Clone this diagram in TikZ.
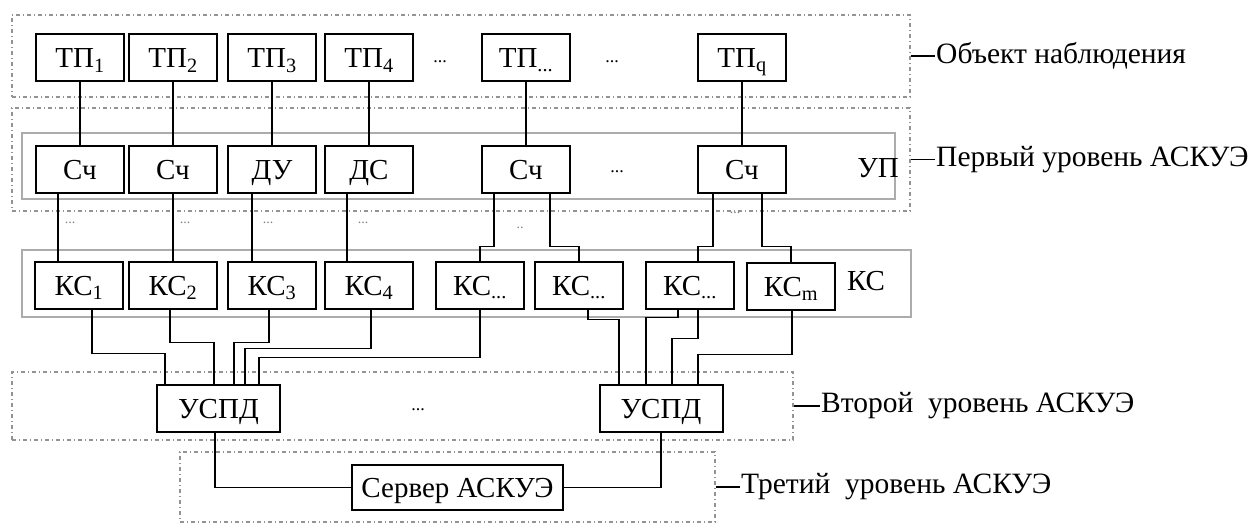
\documentclass[tikz,border=0pt]{standalone}
\usepackage{fontspec}
\setmainfont{Liberation Serif}
\begin{document}
\begin{tikzpicture}[x=1pt, y=-1pt,
    box/.style={draw, line width=2pt, minimum width=88pt, minimum height=47pt, inner sep=0pt, text height=22pt, text depth=2pt, font=\fontsize{29}{31}\selectfont},
    levelframe/.style={draw=gray!85, line width=1.2pt, dash pattern=on 4pt off 3pt on 1pt off 3pt, inner sep=0pt},
    panel/.style={draw=gray!65, line width=2pt, inner sep=0pt},
    lbl/.style={anchor=west, inner sep=1pt, font=\fontsize{29.5}{31}\selectfont},
    dots/.style={font=\fontsize{18}{20}\selectfont},
    smalldots/.style={font=\fontsize{14}{16}\selectfont, text=gray},
    wire/.style={line width=1.6pt},
]
\useasboundingbox (0,0) rectangle (1252,524);

% Level frames and panels
\node[levelframe, minimum width=898pt, minimum height=82pt] (objframe) at (461,56) {};
\node[levelframe, minimum width=898pt, minimum height=103pt] (lvl1frame) at (461,159.5) {};
\node[levelframe, minimum width=781pt, minimum height=68pt] (lvl2frame) at (402.5,406) {};
\node[levelframe, minimum width=535pt, minimum height=70pt] (lvl3frame) at (447.5,487) {};
\node[panel, minimum width=873pt, minimum height=66pt] (uppanel) at (458.5,166) {};
\node[panel, minimum width=889pt, minimum height=67pt] (kcpanel) at (466.5,283.5) {};

% Object points
\node[box] (tp1) at (80,57.5) {ТП\textsubscript{1}};
\node[box] (tp2) at (173,57.5) {ТП\textsubscript{2}};
\node[box] (tp3) at (272,57.5) {ТП\textsubscript{3}};
\node[box] (tp4) at (369,57.5) {ТП\textsubscript{4}};
\node[box] (tp5) at (526,57.5) {ТП\textsubscript{...}};
\node[box] (tp6) at (742,57.5) {ТП\textsubscript{q}};
\node[dots] (tpdotsa) at (440,62) {...};
\node[dots] (tpdotsb) at (612,62) {...};

% Meters
\node[box] (sch1) at (80,169) {Сч};
\node[box] (sch2) at (173,169) {Сч};
\node[box] (sch3) at (272,169) {ДУ};
\node[box] (sch4) at (369,169) {ДС};
\node[box] (sch5) at (526,169) {Сч};
\node[box] (sch6) at (742,169) {Сч};
\node[dots] (schdots) at (617,172) {...};
\node[font=\fontsize{29}{31}\selectfont] (uplbl) at (878,168) {УП};

% Channels
\node[box] (kc1) at (79,285) {КС\textsubscript{1}};
\node[box] (kc2) at (173,285) {КС\textsubscript{2}};
\node[box] (kc3) at (272,285) {КС\textsubscript{3}};
\node[box] (kc4) at (369,285) {КС\textsubscript{4}};
\node[box] (kc5) at (480,285) {КС\textsubscript{...}};
\node[box] (kc6) at (579,285) {КС\textsubscript{...}};
\node[box] (kc7) at (690,285) {КС\textsubscript{...}};
\node[box] (kc8) at (791,286.5) {КС\textsubscript{m}};
\node[font=\fontsize{29}{31}\selectfont] (kclbl) at (866,281) {КС};

\node[smalldots] (wdots1) at (70,223) {...};
\node[smalldots] (wdots2) at (185,223) {...};
\node[smalldots] (wdots3) at (268,223) {...};
\node[smalldots] (wdots4) at (363,223) {...};
\node[smalldots] (wdots5) at (520,228) {..};
\node[smalldots] (wdots6) at (735,213) {...};

% Data collectors and server
\node[box, minimum width=123pt] (uspd1) at (218.5,408.5) {УСПД};
\node[box, minimum width=123pt] (uspd2) at (661,408.5) {УСПД};
\node[dots] (uspddots) at (418,410) {...};
\node[box, minimum width=211pt, minimum height=45pt] (server) at (457.5,487.5) {Сервер АСКУЭ};

% Level labels
\node[lbl] (objlbl) at (935,56) {Объект наблюдения};
\node[lbl] (lvl1lbl) at (935,159.5) {Первый уровень АСКУЭ};
\node[lbl] (lvl2lbl) at (820,406) {Второй\ \ уровень АСКУЭ};
\node[lbl] (lvl3lbl) at (740,487) {Третий\ \ уровень АСКУЭ};
\draw[wire] (objframe.east) -- (objlbl.west);
\draw[wire] (lvl1frame.east) -- (lvl1lbl.west);
\draw[wire] (lvl2frame.east) -- (lvl2lbl.west);
\draw[wire] (lvl3frame.east) -- (lvl3lbl.west);

% Points to meters
\draw[wire] (tp1.south) -- (sch1.north);
\draw[wire] (tp2.south) -- (sch2.north);
\draw[wire] (tp3.south) -- (sch3.north);
\draw[wire] (tp4.south) -- (sch4.north);
\draw[wire] (tp5.south) -- (sch5.north);
\draw[wire] (tp6.south) -- (sch6.north);

% Meters to channels
\draw[wire] ([xshift=-22pt]sch1.south) -- ([xshift=-21pt]kc1.north);
\draw[wire] (sch2.south) -- (kc2.north);
\draw[wire] ([xshift=-20pt]sch3.south) -- ([xshift=-20pt]kc3.north);
\draw[wire] ([xshift=-22pt]sch4.south) -- ([xshift=-22pt]kc4.north);
\draw[wire] ([xshift=-32pt]sch5.south) -- ++(0,53) -| (kc5.north);
\draw[wire] ([xshift=24pt]sch5.south) -- ++(0,53) -| (kc6.north);
\draw[wire] ([xshift=-29pt]sch6.south) -- ++(0,53) -| ([xshift=8pt]kc7.north);
\draw[wire] ([xshift=20pt]sch6.south) -- ++(0,53) -| (kc8.north);

% Channels to collectors
\draw[wire] ([xshift=13pt]kc1.south) -- ++(0,44) -| ([xshift=-53.5pt]uspd1.north);
\draw[wire] ([xshift=-3pt]kc2.south) -- ++(0,33) -| ([xshift=-4.5pt]uspd1.north);
\draw[wire] ([xshift=-3pt]kc3.south) -- ++(0,33) -| ([xshift=15.5pt]uspd1.north);
\draw[wire] ([xshift=2pt]kc4.south) -- ++(0,39) -| ([xshift=26.5pt]uspd1.north);
\draw[wire] (kc5.south) -- ++(0,48) -| ([xshift=40.5pt]uspd1.north);
\draw[wire] ([xshift=9pt]kc6.south) -- ++(0,10) -| ([xshift=-42pt]uspd2.north);
\draw[wire] ([xshift=-12pt]kc7.south) -- ++(0,8) -| ([xshift=-15pt]uspd2.north);
\draw[wire] ([xshift=8pt]kc7.south) -- ++(0,29) -| ([xshift=11pt]uspd2.north);
\draw[wire] ([xshift=1pt]kc8.south) -- ++(0,43.5) -| ([xshift=37pt]uspd2.north);

% Collectors to server
\draw[wire] ([xshift=-3.5pt]uspd1.south) |- (server.west);
\draw[wire] (uspd2.south) |- (server.east);

\end{tikzpicture}
\end{document}
